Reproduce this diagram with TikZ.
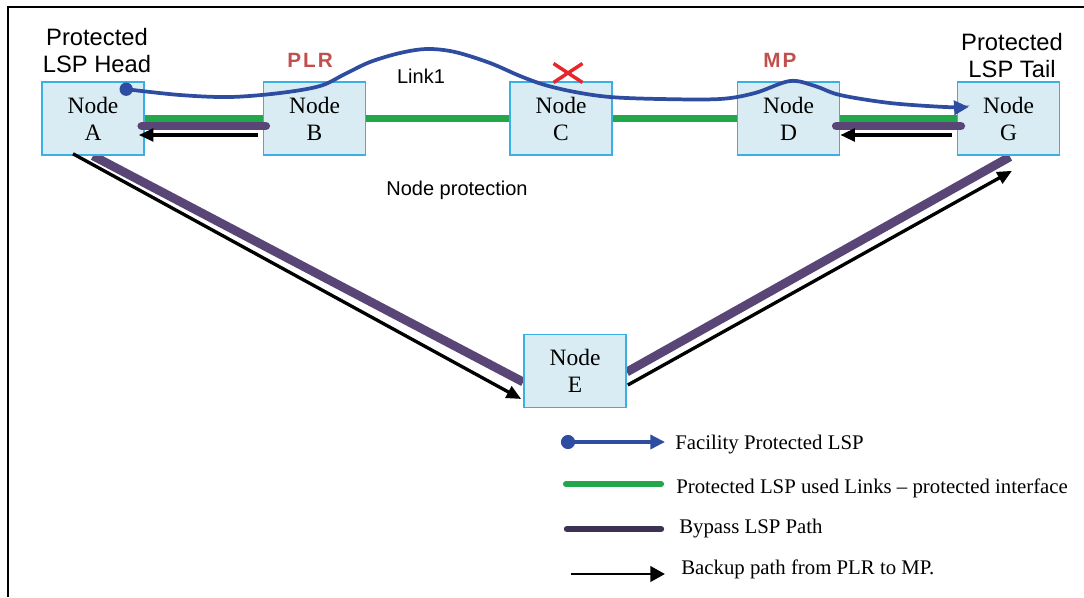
\documentclass[tikz,border=0pt]{standalone}
\usepackage{fontspec}
\setmainfont{Liberation Serif}
\newfontfamily\arial{Liberation Sans}
\newfontfamily\arialsp[LetterSpace=10]{Liberation Sans}
\usetikzlibrary{arrows.meta,calc}
\definecolor{boxfill}{HTML}{D9ECF3}
\definecolor{boxdraw}{HTML}{3AAFE3}
\definecolor{lspblue}{HTML}{2E4DA0}
\definecolor{linkgreen}{HTML}{22A84B}
\definecolor{bypass}{HTML}{5A4676}
\definecolor{bypassdark}{HTML}{3D3254}
\definecolor{labelred}{HTML}{C0504D}
\definecolor{xred}{HTML}{E8262A}
\pgfdeclarelayer{bg}
\pgfsetlayers{bg,main}
\begin{document}
\begin{tikzpicture}[x=0.75pt,y=-0.75pt,
  nodebox/.style={draw=boxdraw,fill=boxfill,line width=1.2pt,minimum width=76.5pt,minimum height=54.75pt,inner sep=0pt,align=center,font=\fontsize{17.6}{20.25}\selectfont},
  sanslabel/.style={inner sep=0pt,align=center,font=\arial\fontsize{17.8}{20.25}\selectfont},
  rolelabel/.style={inner sep=0pt,text=labelred,font=\arialsp\bfseries\fontsize{15.5}{18}\selectfont},
  smalllabel/.style={inner sep=0pt,font=\arial\fontsize{15}{17}\selectfont},
  legendtext/.style={inner sep=0pt,anchor=base west,font=\fontsize{15.6}{18}\selectfont},
  greenlink/.style={draw=linkgreen,line width=5.5pt},
  bypassline/.style={draw=bypass,line width=6.6pt},
  backup/.style={draw=black,line width=2.5pt,-{Triangle[length=11pt,width=9.5pt]}},
  lsp/.style={draw=lspblue,line width=2.8pt,-{Triangle[length=11pt,width=10.5pt]}}]
\useasboundingbox (0,0) rectangle (1084,597);
% frame
\draw[line width=1.5pt] (8,597) -- (8,7) -- (1084,7);

% nodes
\node[nodebox] (A) at (93,118.5) {Node\\A};
\node[nodebox] (B) at (314.5,118.5) {Node\\B};
\node[nodebox] (C) at (561,118.5) {Node\\C};
\node[nodebox] (D) at (788.5,118.5) {Node\\D};
\node[nodebox] (G) at (1008.5,118.5) {Node\\G};
\node[nodebox] (E) at (575,371) {Node\\E};

% labels
\node[sanslabel] (headlbl) at (97,51) {Protected\\LSP Head};
\node[sanslabel] (taillbl) at (1012,56) {Protected\\LSP Tail};
\node[rolelabel] (plr) at (310,60) {PLR};
\node[rolelabel] (mp) at (780,60) {MP};
\node[smalllabel] (link1) at (421,76) {Link1};
\node[smalllabel] (nprot) at (457,190) {Node protection};

% diagonal bypass paths (under boxes)
\begin{pgfonlayer}{bg}
\draw[bypassline] (A.south) -- ($(E.west)+(0,11)$);
\draw[bypassline] ($(E.east)+(0,1)$) -- ($(G.south)+(1.5,1)$);
\end{pgfonlayer}
\draw[backup] ($(A.south)+(-20,-2)$) -- ($(E.west)+(-2,28)$);
\draw[backup] ($(E.east)+(1,14)$) -- ($(G.south)+(3.5,15)$);

% green protected links
\draw[greenlink] (A.east) -- (B.west);
\draw[greenlink] (B.east) -- (C.west);
\draw[greenlink] (C.east) -- (D.west);
\draw[greenlink] (D.east) -- (G.west);

% horizontal bypass
\draw[bypassline,line cap=round] ($(A.east)+(-3,7.5)$) -- ($(B.west)+(3,7.5)$);
\draw[bypassline,line cap=round] ($(D.east)+(-4,7.5)$) -- ($(G.west)+(4,7.5)$);

% backup arrows
\draw[backup] ($(B.west)+(-5,16.5)$) -- ($(A.east)+(-6,16.5)$);
\draw[backup] ($(G.west)+(-5,16.5)$) -- ($(D.east)+(0,16.5)$);

% protected LSP
\coordinate (lspstart) at ($(A.north west)+(85,8)$);
\coordinate (lspend) at ($(G.west)+(12,-11.5)$);
\draw[lsp] plot[smooth,tension=0.55] coordinates {(lspstart) (180,95) (230,97) (280,93) (320,86) (345,74) (370,62) (400,53) (427,49) (455,52) (490,63) (520,76) (545,85) (575,92) (610,97) (660,99) (720,99) (755,93) (790,81) (815,86) (840,95) (890,103) (945,107) (lspend)};
\fill[lspblue] (lspstart) circle[radius=5pt];

% failure mark
\coordinate (fail) at (568,73);
\draw[xred,line width=2.6pt] ($(fail)+(-14.5,-9.5)$) -- ($(fail)+(14.5,9.5)$)
  ($(fail)+(-14.5,9.5)$) -- ($(fail)+(14.5,-9.5)$);

% legend
\coordinate (l1a) at (568,442); \coordinate (l1b) at (665,442);
\draw[lsp,line width=2.6pt] (l1a) -- (l1b);
\fill[lspblue] (l1a) circle[radius=5.3pt];
\node[legendtext] (t1) at (675,449) {Facility Protected LSP};
\coordinate (l2a) at (566,484); \coordinate (l2b) at (661,484);
\draw[greenlink,line width=4.6pt,line cap=round] (l2a) -- (l2b);
\node[legendtext] (t2) at (676,493) {Protected LSP used Links -- protected interface};
\coordinate (l3a) at (567,529); \coordinate (l3b) at (661,529);
\draw[draw=bypassdark,line width=4.8pt,line cap=round] (l3a) -- (l3b);
\node[legendtext] (t3) at (679,533) {Bypass LSP Path};
\coordinate (l4a) at (571,574); \coordinate (l4b) at (665,574);
\draw[draw=black,line width=2.2pt,-{Triangle[length=11pt,width=11.5pt]}] (l4a) -- (l4b);
\node[legendtext] (t4) at (681,574) {Backup path from PLR to MP.};
\end{tikzpicture}
\end{document}
